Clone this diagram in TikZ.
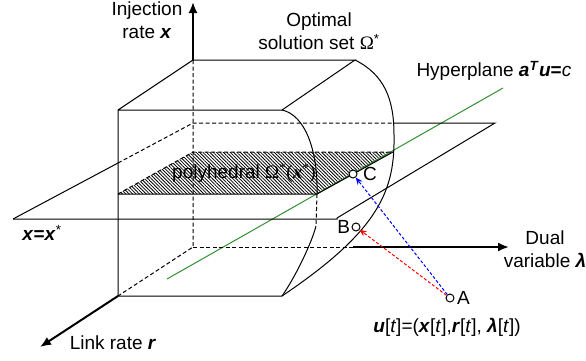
\documentclass[tikz,border=0pt]{standalone}
\usepackage{fontspec}
\setmainfont{Liberation Sans}
\newfontfamily\seriffont{Liberation Serif}
\usetikzlibrary{arrows.meta,patterns.meta}
\newcommand{\bx}[1]{\textbf{\textit{#1}}}

\begin{document}
\begin{tikzpicture}[x=1pt, y=-1pt, >={Latex[length=11pt,width=9pt]}, line width=1pt,
    lbl/.style={font=\fontsize{19}{23}\selectfont, inner sep=0pt, align=center},
    hid/.style={dash pattern=on 4pt off 2.5pt},
    axis/.style={line width=2pt},
    pt/.style={circle, draw, fill=white, line width=1pt, inner sep=0pt, minimum size=8pt}]
	\useasboundingbox (0,0) rectangle (586,360);
	
	% 1. 长方体顶点与坐标轴端点
	\coordinate (O) at (193,247);
	\coordinate (BTL) at (193,60);
	\coordinate (BTR) at (355,60);
	\coordinate (FTL) at (118,110);
	\coordinate (FTR) at (282,110);
	\coordinate (FBL) at (118,296);
	\coordinate (FBR) at (282,296);
	\coordinate (xtip) at (193,2);
	\coordinate (lmid) at (353,247);
	\coordinate (ltip) at (509,247);
	\coordinate (rtip) at (40,347);
	
	% 2. 平面 x=x* 与多面体截面
	\coordinate (P1) at (13,219);
	\coordinate (P1a) at (118,163);
	\coordinate (P2) at (193,123);
	\coordinate (P3a) at (393,123);
	\coordinate (P3) at (495,123);
	\coordinate (P4) at (337,218);
	\coordinate (H1) at (118,194);
	\coordinate (H2) at (193,152);
	\coordinate (H3) at (393,152);
	\coordinate (H4) at (317,194);
	\fill[pattern={Lines[angle=-45,distance=2.4pt,line width=0.8pt]}] (H1) -- (H2) -- (H3) -- (H4) -- cycle;
	
	% 3. 超平面 (绿色)
	\draw[green!45!black!80, line width=1pt] (167,279) -- (503,88);
	
	% 4. 可见棱与曲面
	\draw (FTL) -- (BTL) -- (BTR) -- (FTR) -- (FTL) -- (FBL) -- (FBR);
	\draw (FTR) .. controls (305,115) and (318,150) .. (H4);
	\draw (316,226) .. controls (312,242) and (296,276) .. (FBR);
	\draw (BTR) .. controls (385,75) and (394,100) .. (394,135)
	            .. controls (395,190) and (380,230) .. (FBR);
	\draw (P1) -- (P1a);
	\draw (P3a) -- (P3) -- (P4) -- (P1 -| P4) -- (P1);
	\draw (H1) -- (H4) -- (H3);
	
	% 5. 隐藏棱 (虚线)
	\draw[hid] (BTL) -- (O) -- (FBL);
	\draw[hid] (O) -- (lmid);
	\draw[hid] (P1a) -- (P2) -- (P3a);
	\draw[hid] (H1) -- (H2) -- (H3);
	\draw[hid] (H4) -- (316,226);
	
	% 6. 坐标轴
	\draw[axis, ->] (BTL) -- (xtip);
	\draw[axis, ->] (lmid) -- (ltip);
	\draw[axis, ->] (FBL) -- (rtip);
	
	% 7. 迭代点与箭头
	\node[pt] (A) at (450,298) {};
	\node[pt] (B) at (356,227) {};
	\node[pt] (C) at (353,174) {};
	\draw[red, ->, dash pattern=on 3pt off 2pt, >={Stealth[length=7pt,width=6pt]}] (A) -- (B);
	\draw[blue, ->, dash pattern=on 3pt off 2pt, >={Stealth[length=7pt,width=6pt]}] (A) -- (C);
	\node[lbl, right=2pt] (Alab) at (A.east) {A};
	\node[lbl, left=1pt] (Blab) at (B.west) {B};
	\node[lbl, right=5pt] (Clab) at (C.east) {C};
	
	% 8. 文字标注
	\node[lbl] (xlab) at (147,20) {Injection\\rate \bx{x}};
	\node[lbl] (optlab) at (319,31) {Optimal\\solution set {\seriffont Ω}\textsuperscript{*}};
	\node[lbl, anchor=west] (hyplab) at (416,71) {Hyperplane \bx{a}\textsuperscript{\bx{T}}\bx{u}\textbf{=}\textit{c}};
	\node[lbl] (polylab) at (244,173) {polyhedral {\seriffont Ω\textsuperscript{*}(\bx{x}\textsuperscript{*})}};
	\node[lbl] (planelab) at (42,233) {\bx{x}\textbf{=}\bx{x}\textsuperscript{*}};
	\node[lbl] (duallab) at (545,249) {Dual\\variable \bx{λ}};
	\node[lbl] (linklab) at (113,343) {Link rate \bx{r}};
	\node[lbl] (ulab) at (447,327) {\bx{u}[\textit{t}]=(\bx{x}[\textit{t}],\bx{r}[\textit{t}], \bx{λ}[\textit{t}])};
\end{tikzpicture}
\end{document}
